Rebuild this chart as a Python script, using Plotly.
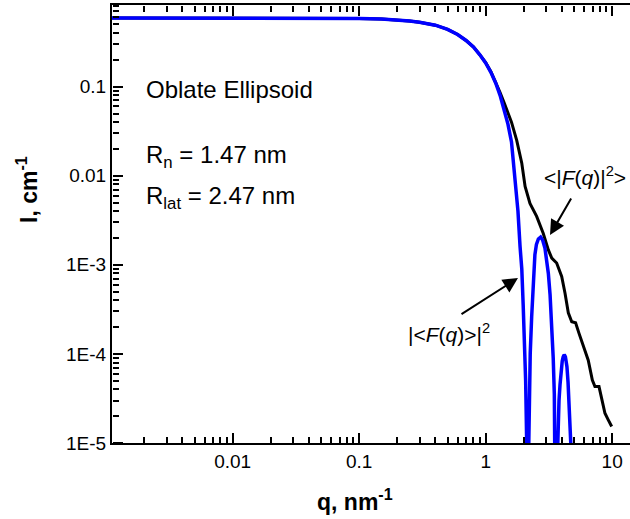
import plotly.graph_objects as go

# ---- data ----
q_blue = [0.0011, 0.003, 0.01, 0.03, 0.06, 0.1, 0.15, 0.2, 0.25, 0.3, 0.4, 0.5, 0.6, 0.7, 0.8,
          0.9, 1.0, 1.1, 1.2, 1.3, 1.4, 1.5, 1.6, 1.7, 1.8, 1.87, 1.93, 1.98, 2.03, 2.07, 2.11,
          2.15, 2.18, 2.2, 2.25, 2.31, 2.4, 2.45, 2.52, 2.61, 2.72, 2.82, 2.94, 3.04, 3.13, 3.23,
          3.33, 3.42, 3.49, 3.55, 3.6, 3.65, 3.72, 3.8, 3.87, 3.95, 4.03, 4.1, 4.18, 4.27, 4.39,
          4.48, 4.58, 4.66, 4.74, 4.82, 4.9]
I_blue = [0.59, 0.59, 0.59, 0.589, 0.587, 0.583, 0.575, 0.562, 0.547, 0.528, 0.49, 0.44, 0.385,
          0.33, 0.28, 0.228, 0.185, 0.145, 0.11, 0.08, 0.056, 0.038, 0.024, 0.0095, 0.004, 0.0016,
          9e-4, 3.5e-4, 1.4e-4, 5e-5, 1e-5,
          1e-7, 6e-6, 2.5e-5, 1e-4, 2.6e-4, 8e-4, 1.3e-3, 1.7e-3, 1.95e-3, 2.05e-3, 1.9e-3,
          1.55e-3, 1.15e-3, 8e-4, 4.6e-4, 2.2e-4, 9e-5, 3.5e-5, 8e-6, 1e-7, 4e-6, 1.5e-5, 3e-5,
          4.5e-5, 6.5e-5, 8.3e-5, 9.3e-5, 9.8e-5, 9.3e-5, 7.2e-5, 4.8e-5, 2.8e-5, 1.6e-5, 8e-6,
          3e-6, 1e-6]

q_black = [0.0011, 0.003, 0.01, 0.03, 0.06, 0.1, 0.15, 0.2, 0.25, 0.3, 0.4, 0.5, 0.6, 0.7, 0.8,
           0.9, 1.0, 1.1, 1.2, 1.3, 1.4, 1.5, 1.6, 1.76, 1.93, 2.05, 2.24, 2.53, 2.85, 3.13, 3.33,
           3.64, 3.99, 4.24, 4.5, 4.79, 5.14, 5.47, 5.92, 6.47, 6.97, 7.31, 7.87, 8.26, 8.77,
           9.31, 9.91]
I_black = [0.59, 0.59, 0.59, 0.589, 0.587, 0.583, 0.575, 0.562, 0.547, 0.528, 0.49, 0.44, 0.385,
           0.33, 0.28, 0.228, 0.186, 0.147, 0.113, 0.086, 0.066, 0.052, 0.040, 0.025, 0.0138,
           7.6e-3, 4.9e-3, 3.5e-3, 2.26e-3, 1.47e-3, 1.19e-3, 1.05e-3, 7.4e-4, 4.8e-4, 2.9e-4,
           2.3e-4, 2.24e-4, 1.7e-4, 1.2e-4, 8.5e-5, 5.1e-5, 4.3e-5, 4.3e-5, 3.05e-5, 2.16e-5,
           1.82e-5, 1.53e-5]

x_tickvals = [0.01, 0.1, 1, 10]
x_ticktext = ["0.01", "0.1", "1", "10"]
y_tickvals = [1e-5, 1e-4, 1e-3, 0.01, 0.1]
y_ticktext = ["1E-5", "1E-4", "1E-3", "0.01", "0.1"]

x_minor = [m * 10.0 ** e for e in range(-3, 2) for m in range(2, 10) if m * 10.0 ** e < 14]
y_minor = [m * 10.0 ** e for e in range(-5, 0) for m in range(2, 10)]

X_RANGE = [-2.954, 1.141]
Y_RANGE = [-5.0, -0.083]

FONT = "Liberation Sans, Arial, Helvetica, sans-serif"

fig = go.Figure()
fig.add_trace(go.Scatter(x=q_black, y=I_black, mode="lines",
                         line=dict(color="black", width=3), showlegend=False))
fig.add_trace(go.Scatter(x=q_blue, y=I_blue, mode="lines",
                         line=dict(color="#0000FF", width=3.5), showlegend=False))

# main axes: lines + labels (no ticks)
main = dict(type="log", showline=True, linecolor="black", linewidth=2, ticks="",
            showgrid=False, zeroline=False, automargin=False, tickmode="array",
            tickfont=dict(family=FONT, size=19, color="black"))

# tick-only overlay axes placed on the frame with their "outside" facing the plot interior
tk = dict(type="log", ticks="outside", tickwidth=2, tickcolor="black", showline=False,
          showgrid=False, zeroline=False, showticklabels=False, automargin=False,
          tickmode="array", anchor="free")

fig.update_layout(
    xaxis=dict(main, range=X_RANGE, tickvals=x_tickvals, ticktext=x_ticktext, mirror=True),
    yaxis=dict(main, range=Y_RANGE, tickvals=y_tickvals, ticktext=y_ticktext, mirror=False),
    # bottom frame, ticks pointing up
    xaxis2=dict(tk, range=X_RANGE, tickvals=x_minor, ticklen=6, overlaying="x",
                side="top", position=0),
    xaxis3=dict(tk, range=X_RANGE, tickvals=x_tickvals, ticklen=10, overlaying="x",
                side="top", position=0),
    # top frame, ticks pointing down
    xaxis4=dict(tk, range=X_RANGE, tickvals=x_minor, ticklen=6, overlaying="x",
                side="bottom", position=1),
    xaxis5=dict(tk, range=X_RANGE, tickvals=x_tickvals, ticklen=10, overlaying="x",
                side="bottom", position=1),
    # left frame, ticks pointing right
    yaxis2=dict(tk, range=Y_RANGE, tickvals=y_minor, ticklen=6, overlaying="y",
                side="right", position=0),
    yaxis3=dict(tk, range=Y_RANGE, tickvals=y_tickvals, ticklen=10, overlaying="y",
                side="right", position=0),
)

# invisible helper traces so every overlay axis is drawn
for xa in ("x2", "x3", "x4", "x5"):
    fig.add_trace(go.Scatter(x=[q_black[0]], y=[I_black[0]], xaxis=xa, yaxis="y",
                             mode="markers", marker=dict(opacity=0), hoverinfo="skip",
                             showlegend=False))
for ya in ("y2", "y3"):
    fig.add_trace(go.Scatter(x=[q_black[0]], y=[I_black[0]], xaxis="x", yaxis=ya,
                             mode="markers", marker=dict(opacity=0), hoverinfo="skip",
                             showlegend=False))

def px(xp):
    return (xp - 112) / 518.0

def py(yp):
    return (443 - yp) / 438.0

def tf(size):
    return dict(family=FONT, size=size, color="black")

annots = [
    dict(x=px(145), y=py(90), text="Oblate Ellipsoid", size=24),
    dict(x=px(145), y=py(156), text="R<sub>n</sub> = 1.47 nm", size=24),
    dict(x=px(145), y=py(197), text="R<sub>lat</sub> = 2.47 nm", size=24),
    dict(x=px(543), y=py(176), text="&lt;|<i>F</i>(<i>q</i>)|<sup>2</sup>&gt;", size=21),
    dict(x=px(407), y=py(333), text="|&lt;<i>F</i>(<i>q</i>)&gt;|<sup>2</sup>", size=21),
]
for a in annots:
    fig.add_annotation(xref="paper", yref="paper", x=a["x"], y=a["y"], text=a["text"],
                       xanchor="left", yanchor="middle", showarrow=False,
                       borderpad=0, font=tf(a["size"]))

# arrows
fig.add_annotation(xref="paper", yref="paper", x=px(550), y=py(235), ax=22, ay=-38,
                   text="", showarrow=True, arrowhead=2, arrowsize=1.5, arrowwidth=2,
                   arrowcolor="black")
fig.add_annotation(xref="paper", yref="paper", x=px(518), y=py(278), ax=-58, ay=37,
                   text="", showarrow=True, arrowhead=2, arrowsize=1.5, arrowwidth=2,
                   arrowcolor="black")

# axis titles
fig.add_annotation(xref="paper", yref="paper", x=px(27), y=py(190), text="<b>I, cm<sup>-1</sup></b>",
                   textangle=-90, xanchor="center", yanchor="middle", showarrow=False,
                   font=tf(23))
fig.add_annotation(xref="paper", yref="paper", x=px(355), y=py(500), text="<b>q, nm<sup>-1</sup></b>",
                   xanchor="center", yanchor="middle", showarrow=False, font=tf(23))

fig.update_layout(width=630, height=519, margin=dict(l=112, r=0, t=5, b=76, autoexpand=False),
                  paper_bgcolor="white", plot_bgcolor="white", showlegend=False)

fig.write_html("out.html", config={"displayModeBar": False})

# remove the default page margin so the figure sits at the window's top-left corner
with open("out.html", "r", encoding="utf-8") as f:
    html = f.read()
html = html.replace("<head>", "<head><style>html,body{margin:0;padding:0;overflow:hidden;}</style>", 1)
with open("out.html", "w", encoding="utf-8") as f:
    f.write(html)
